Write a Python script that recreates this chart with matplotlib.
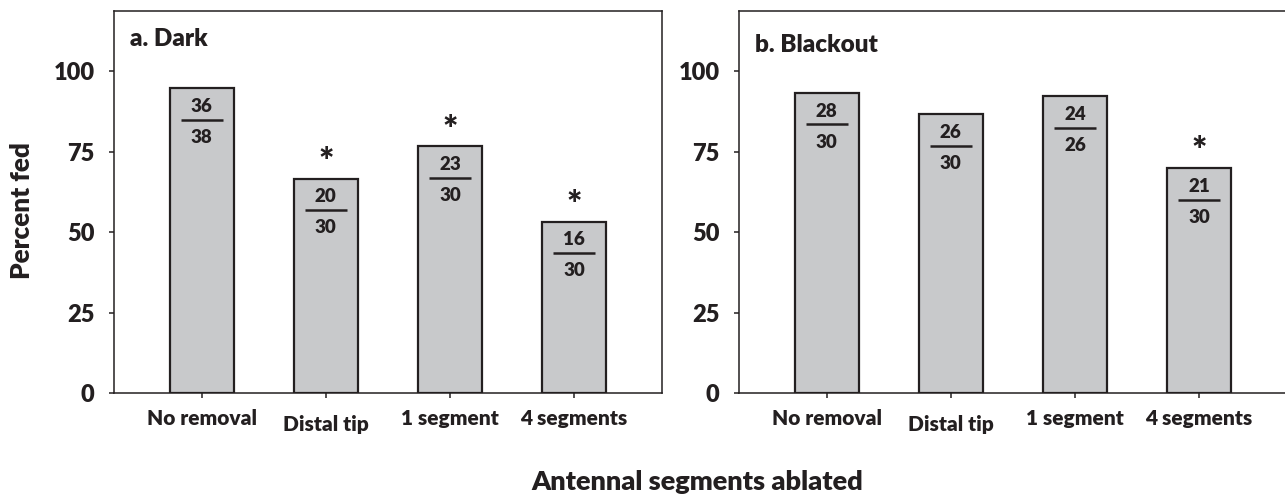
#!/usr/bin/env python
# -*- coding: utf-8 -*-

"""
Antennal ablation feeding assay: percent fed, dark vs blackout.
"""

import matplotlib
matplotlib.use("Agg")
import matplotlib.pyplot as plt
import matplotlib.transforms as mtransforms
import numpy as np

categories = ['No removal', 'Distal tip', '1 segment', '4 segments']

# panel a: dark
dark_fed = [36, 20, 23, 16]
dark_n = [38, 30, 30, 30]
dark_sig = [False, True, True, True]

# panel b: blackout
blackout_fed = [28, 26, 24, 21]
blackout_n = [30, 30, 26, 30]
blackout_sig = [False, False, False, True]

yticks = [0, 25, 50, 75, 100]

TXT = '#231f20'
BAR = '#c8c9cb'
plt.rcParams['font.family'] = ['Lato', 'DejaVu Sans']
plt.rcParams['font.weight'] = 'heavy'

W, H = 1285, 494
fig = plt.figure(figsize=(W / 100, H / 100), dpi=100)


def draw_panel(ax, fed, n, sig, label, label_y):
    pct = 100.0 * np.array(fed) / np.array(n)
    x = np.arange(len(categories))
    ax.bar(x, pct, width=0.515, color=BAR, edgecolor=TXT, linewidth=1.6, zorder=2)

    for i in range(len(x)):
        top = pct[i]
        # numerator / line / denominator
        ax.annotate(str(fed[i]), (x[i], top), xytext=(0, -13.2), textcoords='offset points',
                    ha='center', va='center', fontsize=13.5, color=TXT, zorder=3)
        ax.hlines(top - 9.85, x[i] - 0.17, x[i] + 0.17, color=TXT, linewidth=1.8, zorder=3)
        ax.annotate(str(n[i]), (x[i], top), xytext=(0, -35.5), textcoords='offset points',
                    ha='center', va='center', fontsize=13.5, color=TXT, zorder=3)
        if sig[i]:
            ax.annotate('*', (x[i], top), xytext=(0, 11.5), textcoords='offset points',
                        ha='center', va='center', fontsize=26, color=TXT, zorder=3)

    ax.set_xlim(-0.704, 3.706)
    ax.set_ylim(0, 118.8)
    ax.set_yticks(yticks)
    ax.set_xticks(x)
    ax.set_xticklabels(categories)
    ax.tick_params(axis='y', direction='out', length=3.6, width=1.1, pad=10.5,
                   labelsize=17, colors=TXT)
    ax.tick_params(axis='x', direction='out', length=3.6, width=1.1, pad=8,
                   labelsize=15, colors=TXT)
    for s in ax.spines.values():
        s.set_linewidth(1.1)
        s.set_color(TXT)

    # the "Distal tip" label sits a little lower in the original
    lab = ax.get_xticklabels()[1]
    lab.set_transform(lab.get_transform() +
                      mtransforms.ScaledTranslation(0, -6 / 100, fig.dpi_scale_trans))

    ax.text(0.0287, label_y, label, transform=ax.transAxes, ha='left', va='baseline',
            fontsize=17.5, color=TXT)


left_a = 114.3 / W
left_b = 739.3 / W
bottom = (H - 393.3) / H
height = (393.3 - 10.7) / H
width = 547.4 / W

ax_a = fig.add_axes([left_a, bottom, width, height])
ax_b = fig.add_axes([left_b, bottom, width, height])

draw_panel(ax_a, dark_fed, dark_n, dark_sig, 'a. Dark', 0.9077)
draw_panel(ax_b, blackout_fed, blackout_n, blackout_sig, 'b. Blackout', 0.892)

fig.text(22 / W, 1 - 211 / H, 'Percent fed', rotation=90, ha='center', va='center',
         fontsize=18.8, color=TXT)
fig.text(697.5 / W, 1 - 482 / H, 'Antennal segments ablated', ha='center', va='center',
         fontsize=19.5, color=TXT)

fig.savefig('out.png', dpi=100)
